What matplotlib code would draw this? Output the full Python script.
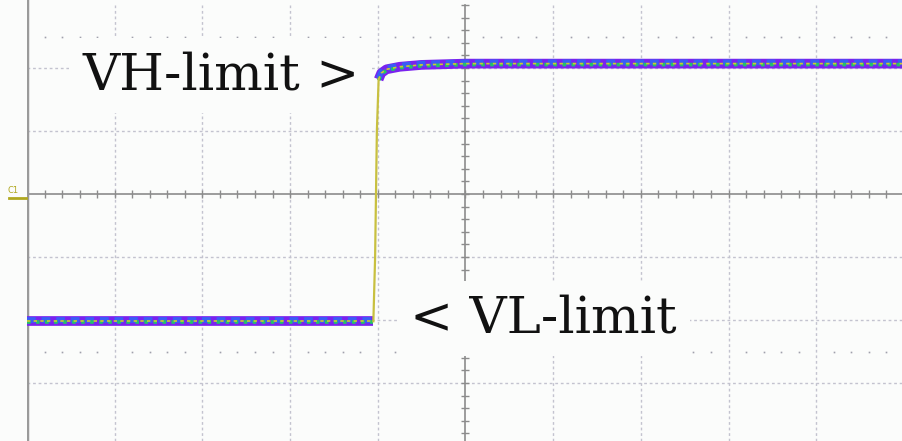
import numpy as np
import matplotlib.pyplot as plt
from matplotlib.lines import Line2D

# waveform in scope divisions (x: time div, y: volt div, 0 = centre line)
low_x = [0.0, 1.0, 2.0, 3.0, 3.95]
low_y = [-2.02, -2.02, -2.02, -2.02, -2.02]
rise_x = [3.95, 3.97, 3.99, 4.01]
rise_y = [-2.02, -1.0, 1.0, 1.82]
high_x = [4.01, 4.04, 4.10, 4.25, 4.50, 5.0, 7.0, 9.99]
high_y = [1.82, 1.92, 1.98, 2.02, 2.05, 2.07, 2.07, 2.07]

label_hi = 'VH-limit >'
label_lo = '< VL-limit'

bg = '#fbfcfb'
grid_c = '#c3c3cf'
axis_c = '#8c8c8c'

fig = plt.figure(figsize=(9.03, 4.41), dpi=100, facecolor=bg)
ax = fig.add_axes([27 / 903, 0, 876 / 903, 1])
ax.set_facecolor(bg)
ax.set_xlim(0, 9.99)
ax.set_ylim(-3.92, 3.08)
ax.axis('off')

# graticule
top = 3.0
for gx in range(1, 10):
    if gx == 5:
        continue
    ax.plot([gx, gx], [-3.92, top], color=grid_c, lw=1, ls=(0, (2, 2)), zorder=1)
for gy in [-3, -2, -1, 1, 2]:
    ax.plot([0, 9.99], [gy, gy], color=grid_c, lw=1, ls=(0, (2, 2)), zorder=1)

# dot rows
dx = np.arange(0.2, 10, 0.2)
dx = dx[np.abs(dx - np.round(dx)) > 0.05]
for gy in [2.5, -2.5]:
    ax.plot(dx, np.full(len(dx), gy), ls='none', marker='s', ms=1.2,
            color='#a0a0ac', mew=0, zorder=1)

# centre cross with ticks
ax.plot([0, 9.99], [0, 0], color=axis_c, lw=1.2, zorder=2)
ax.plot([5, 5], [-3.92, top], color=axis_c, lw=1.2, zorder=2)
tx = np.arange(0.2, 10, 0.2)
ax.plot(tx, np.zeros(len(tx)), ls='none', marker='|', ms=6, mew=1,
        color=axis_c, zorder=2)
ty = np.arange(-3.8, 3.01, 0.2)
ax.plot(np.full(len(ty), 5.0), ty, ls='none', marker='_', ms=6, mew=1,
        color=axis_c, zorder=2)
ax.plot([0, 0], [-3.92, 3.08], color='#9a9a9a', lw=2.5, zorder=2)

# labels with background boxes
ax.text(0.63, 1.66, label_hi, family='DejaVu Serif', fontsize=37,
        color='#111111', va='baseline', ha='left', zorder=3,
        bbox=dict(boxstyle='square,pad=0.25', fc=bg, ec='none'))
ax.text(4.37, -2.19, label_lo, family='DejaVu Serif', fontsize=37,
        color='#111111', va='baseline', ha='left', zorder=3,
        bbox=dict(boxstyle='square,pad=0.25', fc=bg, ec='none'))

# trace: several overlaid acquisitions
layers = [
    ('#7a22ee', 7.0, '-', 0.0),
    ('#3a5cf5', 4.2, (0, (1.5, 1)), 0.02),
    ('#22c46a', 2.6, (0, (1, 1.5)), -0.015),
    ('#d0c830', 1.2, (0, (2, 2)), 0.0),
]
for col, lw, ls, off in layers:
    ax.plot(low_x, np.array(low_y) + off, color=col, lw=lw, ls=ls,
            solid_capstyle='butt', zorder=4)
    ax.plot(high_x, np.array(high_y) + off, color=col, lw=lw, ls=ls,
            solid_capstyle='butt', zorder=4)
ax.plot(rise_x, rise_y, color='#c8c040', lw=1.6, zorder=5)

# channel marker
fig.text(8 / 903, 1 - 193 / 441, 'C1', fontsize=6, color='#b0a820',
         ha='left', va='baseline')
fig.add_artist(Line2D([9 / 903, 26 / 903], [1 - 198 / 441, 1 - 198 / 441],
                      color='#b0a820', lw=2))

fig.savefig('out.png', dpi=100, facecolor=bg)
